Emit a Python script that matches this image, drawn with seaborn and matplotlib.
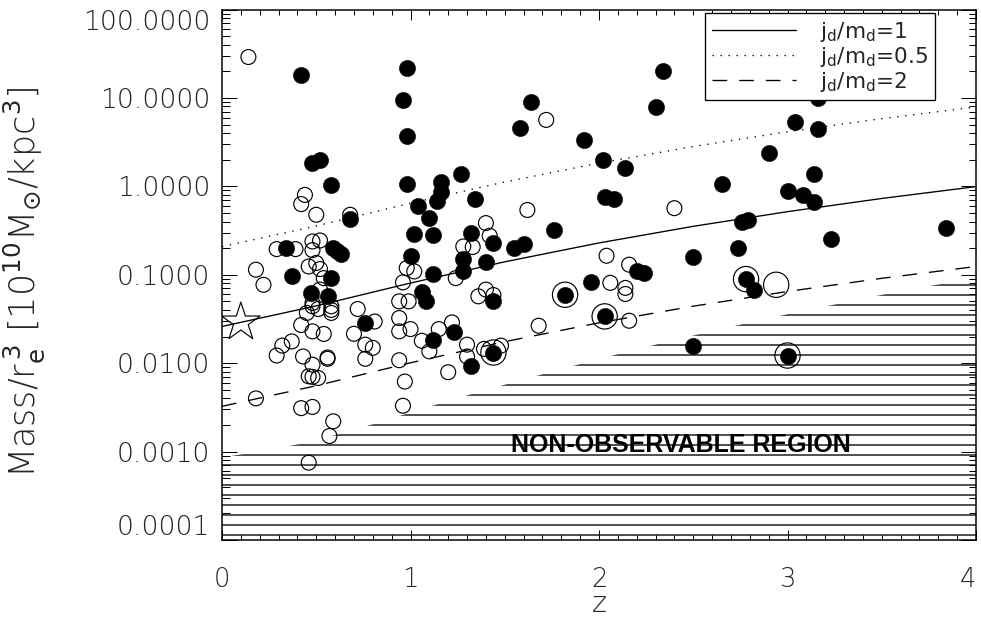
import numpy as np
import pandas as pd
import seaborn as sns
import matplotlib
matplotlib.use("Agg")
import matplotlib.pyplot as plt
from matplotlib.ticker import LogLocator, MultipleLocator, FuncFormatter, NullFormatter

# galaxies shown as filled circles (z, Mass/re^3)
filled_z = [0.42, 0.98, 0.96, 0.98, 0.48, 0.52, 0.58, 0.98, 1.16, 1.16,
            1.14, 1.27, 1.34, 1.04, 1.10, 1.02, 1.12, 0.68, 0.34, 0.59,
            0.61, 0.63, 1.00, 1.32, 1.44, 1.40, 1.28, 1.28, 0.37, 0.58,
            1.12, 0.47, 0.56, 0.76, 1.06, 1.08, 1.12, 1.23, 1.32, 1.44,
            1.44, 2.34, 1.64, 2.30, 1.58, 1.92, 2.02, 2.14, 2.03, 2.08,
            3.16, 3.16, 3.04, 2.90, 2.65, 3.14, 3.00, 3.08, 3.14, 2.76,
            2.79, 3.84, 3.23, 2.74, 1.76, 1.55, 1.60, 2.50, 2.20, 2.24,
            1.96, 1.82, 2.78, 2.82, 2.03, 2.50, 3.00]
filled_rho = [18.0, 21.6, 9.5, 3.72, 1.83, 1.96, 1.03, 1.06, 1.13, 0.87,
              0.69, 1.38, 0.72, 0.60, 0.436, 0.288, 0.278, 0.43, 0.20, 0.20,
              0.188, 0.172, 0.161, 0.30, 0.228, 0.141, 0.150, 0.109, 0.098, 0.092,
              0.103, 0.062, 0.058, 0.0284, 0.063, 0.051, 0.0185, 0.0223, 0.0094, 0.050,
              0.0132, 20.4, 9.1, 7.85, 4.55, 3.3, 1.99, 1.61, 0.755, 0.72,
              10.1, 4.47, 5.4, 2.41, 1.06, 1.38, 0.89, 0.79, 0.664, 0.40,
              0.42, 0.337, 0.257, 0.20, 0.322, 0.20, 0.224, 0.158, 0.109, 0.106,
              0.082, 0.0594, 0.0893, 0.0666, 0.0338, 0.0155, 0.0122]

# galaxies shown as open circles
open_z = [0.14, 0.68, 0.44, 0.42, 0.50, 0.29, 0.39, 0.48, 0.52, 0.48,
          1.40, 1.42, 1.28, 1.33, 0.98, 1.02, 0.18, 0.46, 0.50, 0.52,
          0.22, 0.52, 0.54, 0.48, 0.51, 0.48, 0.58, 0.58, 0.58, 0.45,
          0.42, 0.48, 0.54, 0.37, 0.32, 0.29, 0.43, 0.48, 0.56, 0.56,
          0.46, 0.48, 0.51, 0.18, 0.42, 0.48, 0.59, 0.57, 0.46, 0.72,
          0.81, 0.70, 0.76, 0.80, 0.76, 0.94, 0.99, 0.96, 0.94, 0.94,
          1.00, 0.94, 0.97, 0.96, 1.06, 1.10, 1.15, 1.22, 1.20, 1.30,
          1.30, 1.36, 1.40, 1.44, 1.39, 1.48, 1.24, 1.62, 2.40, 1.72,
          2.04, 2.16, 2.06, 2.14, 2.14, 2.16, 1.68]
open_rho = [29.0, 0.477, 0.80, 0.63, 0.477, 0.195, 0.195, 0.238, 0.244, 0.19,
            0.384, 0.276, 0.209, 0.206, 0.119, 0.109, 0.114, 0.124, 0.136, 0.116,
            0.077, 0.068, 0.0916, 0.048, 0.041, 0.044, 0.044, 0.040, 0.037, 0.037,
            0.027, 0.0229, 0.0214, 0.0176, 0.0158, 0.0122, 0.0119, 0.0096, 0.0116, 0.0112,
            0.0071, 0.0070, 0.0068, 0.0040, 0.0031, 0.0032, 0.0022, 0.0015, 0.00075, 0.041,
            0.0296, 0.0215, 0.0162, 0.0149, 0.0112, 0.050, 0.050, 0.082, 0.0324, 0.0229,
            0.0243, 0.0108, 0.0062, 0.0033, 0.0179, 0.0136, 0.0243, 0.0289, 0.0079, 0.0162,
            0.0119, 0.057, 0.068, 0.059, 0.0145, 0.0158, 0.0916, 0.54, 0.566, 5.64,
            0.164, 0.130, 0.081, 0.071, 0.0606, 0.0302, 0.0265]

# large rings around some objects
ring_z = [1.44, 1.82, 2.03, 2.78, 2.94, 3.00]
ring_rho = [0.0132, 0.0594, 0.0338, 0.0893, 0.077, 0.0122]

# local reference (star)
star_z = [0.10]
star_rho = [0.029]

# model curves for different j_d/m_d
line_z = [0.0, 0.5, 1.0, 1.5, 2.0, 2.5, 3.0, 3.5, 4.0]
rho_jm1 = [0.026, 0.0445, 0.0806, 0.140, 0.229, 0.353, 0.517, 0.729, 0.993]
rho_jm05 = [0.208, 0.356, 0.645, 1.12, 1.83, 2.82, 4.14, 5.83, 7.9]
rho_jm2 = [0.00325, 0.00556, 0.0101, 0.0175, 0.0286, 0.0441, 0.0647, 0.0911, 0.124]
line_labels = [r"j$_{\rm d}$/m$_{\rm d}$=1", r"j$_{\rm d}$/m$_{\rm d}$=0.5",
               r"j$_{\rm d}$/m$_{\rm d}$=2"]

# upper edge of the non-observable region
limit_z = [0.0, 0.17, 0.45, 0.65, 0.83, 1.0, 1.17, 1.35, 1.52, 1.71,
           1.91, 2.11, 2.32, 2.54, 2.77, 3.01, 3.27, 3.53, 3.82, 4.0]
limit_rho = [0.00086, 0.00098, 0.00126, 0.00164, 0.00213, 0.00276, 0.00358, 0.00464, 0.00586, 0.0076,
             0.0099, 0.0128, 0.0166, 0.0215, 0.0279, 0.0362, 0.047, 0.061, 0.079, 0.092]

sns.set_style("ticks")
plt.rcParams["font.family"] = ["DejaVu Sans"]
plt.rcParams["mathtext.fontset"] = "dejavusans"
plt.rcParams["hatch.linewidth"] = 0.8
plt.rcParams["hatch.color"] = "k"

dpi = 120
fig = plt.figure(figsize=(981 / dpi, 629 / dpi), dpi=dpi)
ax = fig.add_axes([222 / 981, 1 - 540 / 629, 754 / 981, 530.5 / 629])
ax.set_yscale("log")
ax.set_xlim(0, 4)
ax.set_ylim(1e-4, 100)

ax.fill_between(limit_z, limit_rho, 1e-4, facecolor="none", edgecolor="k",
                hatch="--", linewidth=0, zorder=1)

styles = ["-", (0, (1, 5)), (0, (11, 9))]
for rho, ls, lab in zip([rho_jm1, rho_jm05, rho_jm2], styles, line_labels):
    sns.lineplot(x=line_z, y=rho, ax=ax, color="k", linewidth=0.8,
                 linestyle=ls, label=lab, zorder=2)


def hollow(z, rho, size, marker="o"):
    sns.scatterplot(x=z, y=rho, ax=ax, s=size, marker=marker, color="k",
                    edgecolor="k", linewidth=0.7, legend=False, zorder=3)
    ax.collections[-1].set_facecolor("none")
    ax.collections[-1].set_edgecolor("k")


hollow(open_z, open_rho, 80)
hollow(ring_z, ring_rho, 230)
sns.scatterplot(x=filled_z, y=filled_rho, ax=ax, s=95, color="k", edgecolor="k",
                linewidth=0.3, legend=False, zorder=4)
hollow(star_z, star_rho, 590, marker="*")

ax.text(0.609, 0.179, "NON-OBSERVABLE REGION", transform=ax.transAxes,
        ha="center", va="center", fontsize=15, fontweight="bold",
        family=["Liberation Sans", "DejaVu Sans"], color="k", zorder=6)

ax.set_xticks([0, 1, 2, 3, 4])
ax.xaxis.set_minor_locator(MultipleLocator(0.1))
ax.set_yticks([1e-4, 1e-3, 1e-2, 1e-1, 1, 10, 100])
ax.yaxis.set_minor_locator(LogLocator(base=10, subs=np.arange(2, 10), numticks=10))
ax.yaxis.set_major_formatter(FuncFormatter(lambda v, p: f"{v:.4f}"))
ax.yaxis.set_minor_formatter(NullFormatter())
ax.xaxis.set_major_formatter(FuncFormatter(lambda v, p: f"{v:.0f}"))

ax.tick_params(which="both", direction="in", top=True, right=True, width=0.6,
               colors="k", labelsize=16)
ax.tick_params(axis="x", which="major", length=6, pad=16, labelsize=15.5)
ax.tick_params(axis="x", which="minor", length=3)
ax.tick_params(axis="y", which="major", length=9, pad=7)
ax.tick_params(axis="y", which="minor", length=4.5)
for sp in ax.spines.values():
    sp.set_linewidth(0.9)
    sp.set_color("k")

for tick in ax.xaxis.get_major_ticks() + ax.yaxis.get_major_ticks():
    tick.label1.set_fontweight("light")
    tick.label1.set_color("0.15")
ax.xaxis.get_major_ticks()[-1].label1.set_horizontalalignment("right")
ax.yaxis.get_major_ticks()[0].label1.set_verticalalignment("bottom")
ax.yaxis.get_major_ticks()[-1].label1.set_verticalalignment("top")

ax.set_xlabel("z", fontsize=17, color="0.15", fontweight="light")
ax.set_ylabel(r"Mass/r$_{\rm e}^{\,3}$ [10$^{10}$M$_{{\odot}}$/kpc$^3$]", fontsize=21,
              color="0.15", fontweight="light")
ax.xaxis.set_label_coords(0.5, -0.095)
ax.yaxis.set_label_coords(-0.232, 0.485)

leg = ax.legend(loc="upper right", bbox_to_anchor=(0.9456, 0.9934), frameon=True,
                fancybox=False, edgecolor="k", framealpha=1, fontsize=13,
                handlelength=3.9, borderaxespad=0, borderpad=0.3,
                labelspacing=0.05, handletextpad=1.1)
leg.get_frame().set_linewidth(0.8)
for t in leg.get_texts():
    t.set_color("0.15")

fig.savefig("out.png", dpi=dpi)
